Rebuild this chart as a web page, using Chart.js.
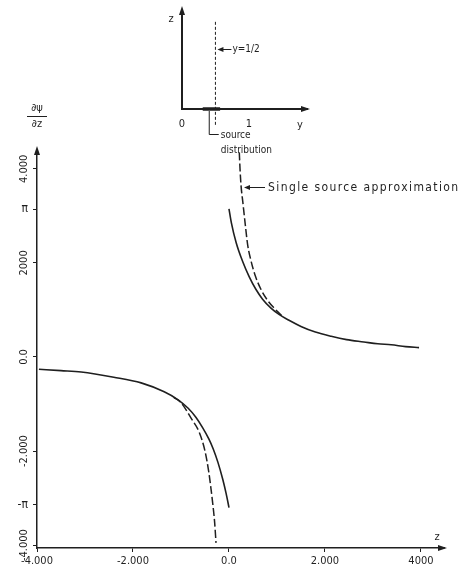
<!DOCTYPE html>
<html>
<head>
<meta charset="utf-8">
<script src="https://cdn.jsdelivr.net/npm/chart.js@4.4.1/dist/chart.umd.min.js"></script>
<style>
  html, body { margin: 0; padding: 0; background: #fff; }
  #wrap { position: relative; width: 462px; height: 572px; }
  #mainChart { position: absolute; left: 0; top: 0; }
  #insetChart { position: absolute; left: 150px; top: 0; }
</style>
</head>
<body>
<div id="wrap">
  <canvas id="mainChart" width="462" height="572"></canvas>
  <canvas id="insetChart" width="170" height="165"></canvas>
</div>
<script>
// axis ticks of the main plot (z against d psi / dz)
const zTicks = [-4, -2, 0, 2, 4];
const zTickLabels = ['-4.000', '-2.000', '0.0', '2.000', '4000'];
const slopeTicks = [-4, -Math.PI, -2, 0, 2, Math.PI, 4];
const slopeTickLabels = ['-4.000', '', '-2.000', '0.0', '2000', '', '4.000'];
const piTicks = [-Math.PI, Math.PI];
const piTickLabels = ['-π', 'π'];

// source distribution (solid), both branches
const distPosZ = [0.0, 0.05, 0.15, 0.285, 0.42, 0.56, 0.70, 0.875, 1.05, 1.25, 1.5, 1.8, 2.13, 2.45, 2.81, 3.1, 3.38, 3.68, 3.96];
const distPosV = [3.15, 2.85, 2.43, 2.03, 1.71, 1.44, 1.23, 1.04, 0.90, 0.78, 0.65, 0.53, 0.44, 0.37, 0.32, 0.28, 0.26, 0.22, 0.20];
const distNegZ = [-3.96, -3.5, -3.08, -2.4, -1.83, -1.35, -1.06, -0.85, -0.69, -0.55, -0.42, -0.33, -0.23, -0.13, -0.06, 0.0];
const distNegV = [-0.26, -0.29, -0.32, -0.43, -0.55, -0.74, -0.91, -1.09, -1.28, -1.50, -1.74, -1.95, -2.24, -2.60, -2.90, -3.20];

// single source approximation (dashed)
const singlePosZ = [0.215, 0.23, 0.25, 0.29, 0.34, 0.39, 0.46, 0.55, 0.67, 0.80, 0.94, 1.12];
const singlePosV = [4.35, 4.0, 3.66, 3.28, 2.81, 2.38, 2.04, 1.72, 1.43, 1.21, 1.04, 0.86];
const singleNegZ = [-1.15, -1.0, -0.79, -0.62, -0.5, -0.42, -0.375, -0.34, -0.3, -0.27];
const singleNegV = [-0.86, -0.97, -1.30, -1.60, -2.00, -2.45, -2.80, -3.10, -3.50, -3.95];

// inset sketch (y, z plane)
const insetTicks = [0, 1];
const insetTickLabels = ['0', '1'];
const markerY = [0.5, 0.5];
const markerZ = [-0.16, 0.9];
const sourceY = [0.31, 0.57];
const sourceZ = [0, 0];

const ink = '#1f1f1f';
const fontFamily = "'DejaVu Sans Condensed', 'DejaVu Sans', sans-serif";
const tickFont = { family: fontFamily, size: 11 };

function pts(xs, ys) {
    return xs.map((x, i) => ({ x: x, y: ys[i] }));
}

function leftHead(ctx, x, y) {
    ctx.beginPath();
    ctx.moveTo(x, y);
    ctx.lineTo(x + 6, y - 2.5);
    ctx.lineTo(x + 6, y + 2.5);
    ctx.closePath();
    ctx.fill();
}

// arrow heads on the ends of both axes
const arrowHeads = {
    id: 'arrowHeads',
    afterDraw(chart) {
        const ctx = chart.ctx, a = chart.chartArea;
        ctx.save();
        ctx.fillStyle = ink;
        ctx.beginPath();
        ctx.moveTo(a.left, a.top - 4);
        ctx.lineTo(a.left - 3, a.top + 5);
        ctx.lineTo(a.left + 3, a.top + 5);
        ctx.closePath();
        ctx.fill();
        ctx.beginPath();
        ctx.moveTo(a.right + 3, a.bottom);
        ctx.lineTo(a.right - 6, a.bottom - 3);
        ctx.lineTo(a.right - 6, a.bottom + 3);
        ctx.closePath();
        ctx.fill();
        ctx.restore();
    }
};

const mainLabels = {
    id: 'mainLabels',
    afterDraw(chart) {
        const ctx = chart.ctx, a = chart.chartArea;
        ctx.save();
        ctx.fillStyle = ink;
        ctx.strokeStyle = ink;
        ctx.lineWidth = 1;
        ctx.textAlign = 'center';
        ctx.textBaseline = 'middle';
        ctx.font = '11px ' + fontFamily;
        ctx.fillText('∂ψ', a.left, 108);
        ctx.fillText('∂z', a.left, 124);
        ctx.beginPath();
        ctx.moveTo(a.left - 10, 116.5);
        ctx.lineTo(a.left + 10, 116.5);
        ctx.stroke();

        ctx.fillText('z', a.right - 7, a.bottom - 11);

        ctx.font = '12px ' + fontFamily;
        ctx.textAlign = 'left';
        ctx.letterSpacing = '1.4px';
        ctx.fillText('Single source approximation', 268, 188);
        ctx.letterSpacing = '0px';
        ctx.beginPath();
        ctx.moveTo(265, 187.5);
        ctx.lineTo(249, 187.5);
        ctx.stroke();
        leftHead(ctx, 244, 187.5);
        ctx.restore();
    }
};

new Chart(document.getElementById('mainChart'), {
    type: 'line',
    data: {
        datasets: [
            { data: pts(distNegZ, distNegV), borderColor: ink, borderWidth: 1.6, pointRadius: 0, cubicInterpolationMode: 'monotone' },
            { data: pts(distPosZ, distPosV), borderColor: ink, borderWidth: 1.6, pointRadius: 0, cubicInterpolationMode: 'monotone' },
            { data: pts(singleNegZ, singleNegV), borderColor: ink, borderWidth: 1.5, borderDash: [8, 3], pointRadius: 0, cubicInterpolationMode: 'monotone' },
            { data: pts(singlePosZ, singlePosV), borderColor: ink, borderWidth: 1.5, borderDash: [8, 3], pointRadius: 0, cubicInterpolationMode: 'monotone' }
        ]
    },
    options: {
        responsive: false,
        animation: false,
        events: [],
        layout: { padding: { top: 150, right: 18, left: 0, bottom: 0 } },
        plugins: { legend: { display: false }, tooltip: { enabled: false } },
        scales: {
            x: {
                type: 'linear', min: -4, max: 4.48,
                afterBuildTicks: s => { s.ticks = zTicks.map(v => ({ value: v })); },
                afterFit: s => { s.height = 24; },
                ticks: { callback: (v, i) => zTickLabels[i], font: tickFont, color: ink, padding: 3, maxRotation: 0, autoSkip: false },
                grid: { drawOnChartArea: false, drawTicks: true, tickLength: 4, color: ink },
                border: { display: true, color: ink, width: 1.5 }
            },
            y: {
                type: 'linear', position: 'left', min: -4.06, max: 4.4,
                afterBuildTicks: s => { s.ticks = slopeTicks.map(v => ({ value: v })); },
                afterFit: s => { s.width = 37; },
                ticks: { callback: (v, i) => slopeTickLabels[i], font: tickFont, color: ink, minRotation: 90, maxRotation: 90, crossAlign: 'center', padding: -7, autoSkip: false },
                grid: { drawOnChartArea: false, drawTicks: true, tickLength: 4, color: ink },
                border: { display: true, color: ink, width: 1.5 }
            },
            yPi: {
                type: 'linear', position: { x: -4.19 }, min: -4.06, max: 4.4,
                afterBuildTicks: s => { s.ticks = piTicks.map(v => ({ value: v })); },
                ticks: { callback: (v, i) => piTickLabels[i], font: { family: fontFamily, size: 12 }, color: ink, padding: 0, autoSkip: false },
                grid: { drawOnChartArea: false, drawTicks: false },
                border: { display: false }
            }
        }
    },
    plugins: [arrowHeads, mainLabels]
});

const insetLabels = {
    id: 'insetLabels',
    afterDraw(chart) {
        const ctx = chart.ctx, a = chart.chartArea, xs = chart.scales.x;
        ctx.save();
        ctx.fillStyle = ink;
        ctx.strokeStyle = ink;
        ctx.lineWidth = 1;
        ctx.textAlign = 'center';
        ctx.textBaseline = 'middle';
        ctx.font = '11px ' + fontFamily;
        ctx.fillText('z', a.left - 11, 19);
        ctx.fillText('y', a.right - 7, a.bottom + 16);

        const mx = xs.getPixelForValue(markerY[0]);
        ctx.font = '10px ' + fontFamily;
        ctx.textAlign = 'left';
        ctx.fillText('y=1/2', mx + 17, 49);
        ctx.beginPath();
        ctx.moveTo(mx + 16, 49.5);
        ctx.lineTo(mx + 7, 49.5);
        ctx.stroke();
        leftHead(ctx, mx + 2, 49.5);

        const sx = xs.getPixelForValue(0.4);
        ctx.beginPath();
        ctx.moveTo(sx + 0.5, a.bottom + 2);
        ctx.lineTo(sx + 0.5, a.bottom + 25.5);
        ctx.lineTo(sx + 10, a.bottom + 25.5);
        ctx.stroke();
        ctx.fillText('source', sx + 12, a.bottom + 26);
        ctx.fillText('distribution', sx + 12, a.bottom + 41);
        ctx.restore();
    }
};

new Chart(document.getElementById('insetChart'), {
    type: 'line',
    data: {
        datasets: [
            { data: pts(markerY, markerZ), borderColor: ink, borderWidth: 1, borderDash: [3, 2], pointRadius: 0, clip: false },
            { data: pts(sourceY, sourceZ), borderColor: ink, borderWidth: 3.5, pointRadius: 0, clip: false }
        ]
    },
    options: {
        responsive: false,
        animation: false,
        events: [],
        layout: { padding: { top: 10, right: 13, left: 0, bottom: 0 } },
        plugins: { legend: { display: false }, tooltip: { enabled: false } },
        scales: {
            x: {
                type: 'linear', min: 0, max: 1.87,
                afterBuildTicks: s => { s.ticks = insetTicks.map(v => ({ value: v })); },
                afterFit: s => { s.height = 56; },
                ticks: { callback: (v, i) => insetTickLabels[i], font: tickFont, color: ink, padding: 9, maxRotation: 0, autoSkip: false },
                grid: { drawOnChartArea: false, drawTicks: false },
                border: { display: true, color: ink, width: 2 }
            },
            y: {
                type: 'linear', min: 0, max: 1,
                afterFit: s => { s.width = 32; },
                ticks: { display: false },
                grid: { drawOnChartArea: false, drawTicks: false },
                border: { display: true, color: ink, width: 2 }
            }
        }
    },
    plugins: [arrowHeads, insetLabels]
});
</script>
</body>
</html>
